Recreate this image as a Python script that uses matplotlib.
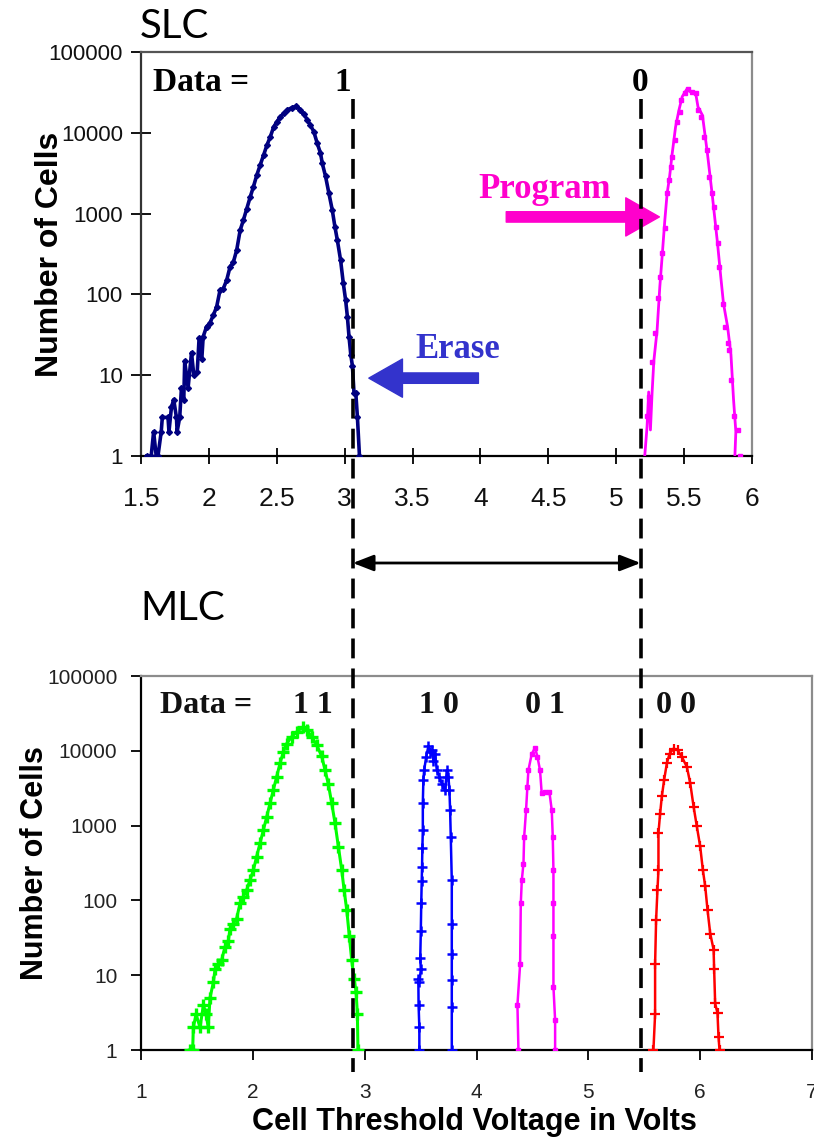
import matplotlib
matplotlib.use("Agg")
import matplotlib.pyplot as plt
from matplotlib.lines import Line2D
from matplotlib.transforms import blended_transform_factory

# ---------------- data ----------------
# SLC, erased state ("1")
slc_erase_v = [1.543, 1.575, 1.593, 1.612, 1.625, 1.649, 1.657, 1.699, 1.706, 1.724, 1.741, 1.761, 1.766,
               1.785, 1.798, 1.815, 1.822, 1.847, 1.872, 1.889, 1.914, 1.928, 1.948, 1.958, 1.983, 2.007,
               2.032, 2.057, 2.082, 2.106, 2.131, 2.156, 2.180, 2.205, 2.230, 2.254, 2.279, 2.304, 2.328,
               2.353, 2.378, 2.403, 2.427, 2.452, 2.477, 2.501, 2.526, 2.551, 2.575, 2.612, 2.645, 2.674,
               2.699, 2.724, 2.748, 2.773, 2.798, 2.822, 2.835, 2.859, 2.884, 2.909, 2.928, 2.946, 2.970,
               2.990, 3.007, 3.020, 3.032, 3.045, 3.057, 3.069, 3.082, 3.094, 3.109]
slc_erase_n = [1, 1, 2, 1, 1, 2, 3, 3, 2, 4, 5, 3, 2,
               3, 7, 5, 15, 7, 19, 10, 11, 29, 16, 30, 40, 44,
               55, 70, 113, 118, 150, 220, 250, 355, 620, 830, 1150, 1600, 2150,
               3000, 4000, 5300, 7000, 8900, 11800, 13700, 15800, 17400, 19100, 20500, 21400, 19100,
               17000, 14600, 12400, 10300, 7400, 5600, 4200, 2900, 1780, 1100, 690, 470, 265,
               137, 85, 53, 30, 18, 13, 6, 6, 3, 1]

# SLC, programmed state ("0"): solid line and dotted series
slc_prog_v = [5.210, 5.227, 5.239, 5.252, 5.264, 5.277, 5.301, 5.321, 5.338, 5.358, 5.375, 5.393, 5.412,
              5.437, 5.462, 5.486, 5.519, 5.548, 5.585, 5.602, 5.635, 5.672, 5.709, 5.746, 5.770, 5.790,
              5.820, 5.845, 5.864, 5.881, 5.874]
slc_prog_n = [1, 2.3, 6.2, 2.1, 6, 15, 36, 124, 293, 830, 1780, 2860, 5500,
              11800, 19100, 28000, 34500, 32000, 31000, 21000, 16500, 5500, 1600, 430, 165, 77,
              40, 18, 5, 2, 1]
slc_prog_dot_v = [5.227, 5.239, 5.264, 5.289, 5.306, 5.326, 5.338, 5.358, 5.375, 5.388, 5.400, 5.412,
                  5.430, 5.449, 5.467, 5.479, 5.504, 5.528, 5.560, 5.585, 5.602, 5.622, 5.647, 5.667,
                  5.684, 5.704, 5.721, 5.733, 5.746, 5.758, 5.783, 5.800, 5.820, 5.832, 5.844, 5.864,
                  5.894, 5.914]
slc_prog_dot_n = [3.1, 5.4, 14.7, 33, 89, 166, 323, 655, 1780, 2590, 3800, 5030,
                  8100, 13700, 18100, 25300, 30700, 34500, 32000, 30700, 19100, 15700, 8900, 6100,
                  2850, 1780, 1210, 690, 428, 220, 77, 40, 24.8, 20.5, 8.7, 3.1,
                  2.1, 1]

# MLC states
mlc11_v = [1.438, 1.462, 1.468, 1.492, 1.528, 1.558, 1.581, 1.602, 1.617, 1.647, 1.662, 1.692, 1.721,
           1.751, 1.781, 1.796, 1.826, 1.855, 1.885, 1.915, 1.945, 1.975, 2.005, 2.034, 2.064, 2.094,
           2.124, 2.154, 2.183, 2.213, 2.243, 2.273, 2.303, 2.347, 2.392, 2.452, 2.482, 2.526, 2.571,
           2.616, 2.646, 2.675, 2.705, 2.735, 2.765, 2.795, 2.816, 2.840, 2.863, 2.884, 2.905, 2.923,
           2.935, 2.940]
mlc11_n = [1, 1, 2, 3, 2, 4, 3, 2, 5, 8, 12, 14, 16,
           24, 29, 42, 49, 57, 91, 112, 138, 188, 255, 385, 580, 870,
           1310, 2000, 2990, 4500, 6800, 9700, 12500, 15400, 17900, 21000, 19000, 15400, 12000,
           8400, 5500, 3600, 2000, 1080, 520, 255, 138, 74, 33, 16, 9, 6,
           3, 1]

mlc10_v = [3.489, 3.489, 3.482, 3.480, 3.490, 3.502, 3.497, 3.502, 3.506, 3.510, 3.513, 3.516, 3.520,
           3.520, 3.525, 3.532, 3.550, 3.570, 3.585, 3.600, 3.615, 3.630, 3.645, 3.669, 3.690, 3.720,
           3.734, 3.749, 3.758, 3.764, 3.770, 3.779, 3.779, 3.779, 3.779, 3.779, 3.779]
mlc10_n = [1, 2, 4, 9, 8, 12, 17, 39, 92, 180, 280, 500, 870,
           2000, 4100, 5500, 8300, 11500, 9500, 10200, 7400, 9100, 5500, 4500, 3600, 2950,
           5500, 4500, 2950, 1600, 700, 185, 49, 19.5, 8.7, 3.8, 1]

mlc01_v = [4.375, 4.366, 4.390, 4.396, 4.405, 4.420, 4.426, 4.443, 4.455, 4.464, 4.494, 4.524, 4.545,
           4.568, 4.583, 4.613, 4.652, 4.673, 4.682, 4.688, 4.688, 4.688, 4.688, 4.703, 4.703]
mlc01_n = [1, 4, 14, 91, 185, 310, 700, 1600, 3300, 5500, 9100, 11000, 8300,
           5500, 2700, 2800, 2800, 1600, 700, 255, 92, 33, 7, 2.5, 1]

mlc00_v = [5.582, 5.597, 5.597, 5.606, 5.618, 5.627, 5.627, 5.642, 5.657, 5.678, 5.702, 5.726, 5.762,
           5.798, 5.836, 5.881, 5.911, 5.941, 5.970, 6.000, 6.024, 6.045, 6.066, 6.090, 6.120, 6.125,
           6.134, 6.155, 6.164, 6.173]
mlc00_n = [1, 3, 14, 55, 137, 255, 800, 1450, 2450, 4100, 6800, 9100, 10700,
           10200, 8300, 6100, 3700, 1800, 980, 530, 255, 155, 74, 36, 22, 12,
           4.2, 3.1, 1.5, 1]

slc_xticks = [1.5, 2, 2.5, 3, 3.5, 4, 4.5, 5, 5.5, 6]
slc_xticklabels = ["1.5", "2", "2.5", "3", "3.5", "4", "4.5", "5", "5.5", "6"]
mlc_xticks = [1, 2, 3, 4, 5, 6, 7]
yticks = [1, 10, 100, 1000, 10000, 100000]
yticklabels = ["1", "10", "100", "1000", "10000", "100000"]

verify_levels = [3.06, 5.18]   # read-verify voltages (dashed lines), SLC axis units

# ---------------- figure ----------------
W, H = 814, 1140
fig = plt.figure(figsize=(W / 100, H / 100), dpi=100)

NARROW = ["Liberation Sans Narrow", "Liberation Sans", "DejaVu Sans"]
SANS = ["Liberation Sans", "DejaVu Sans"]
SERIF = ["Liberation Serif", "DejaVu Serif"]


def fx(px):
    return px / W


def fy(py):
    return 1 - py / H


ax1 = fig.add_axes([fx(141), fy(456), (752 - 141) / W, (456 - 52) / H])
ax2 = fig.add_axes([fx(141), fy(1050), (812 - 141) / W, (1050 - 676) / H])

for ax in (ax1, ax2):
    ax.set_yscale("log")
    ax.set_ylim(1, 100000)
    ax.minorticks_off()
    ax.spines["top"].set_color("#8c8c8c")
    ax.spines["right"].set_color("#8c8c8c")
    ax.spines["left"].set_color("black")
    ax.spines["bottom"].set_color("black")
    for s in ax.spines.values():
        s.set_linewidth(1.6)
ax1.spines["top"].set_color("#555555")
ax1.spines["left"].set_color("#333333")

# ---- SLC ----
ax1.set_xlim(1.5, 6)
ax1.plot(slc_erase_v, slc_erase_n, color="#000080", lw=2.6, marker="D", ms=3.0, zorder=3)
ax1.plot(slc_prog_v, slc_prog_n, color="#ff00ff", lw=2.0, zorder=3)
ax1.plot(slc_prog_dot_v, slc_prog_dot_n, color="#ff00ff", lw=0, marker="s", ms=3.2, zorder=3)

ax1.set_xticks(slc_xticks, slc_xticklabels)
ax1.set_yticks(yticks, yticklabels)
ax1.tick_params(axis="x", direction="inout", length=12, width=1.3, pad=16, labelsize=19)
ax1.tick_params(axis="y", direction="inout", length=14, width=1.3, pad=6, labelsize=16)
for lab in ax1.get_xticklabels() + ax1.get_yticklabels():
    lab.set_family(NARROW)
    lab.set_color("#111111")

ax1.set_ylabel("Number of Cells", fontsize=23, fontweight="bold", family=SANS, va="center")
ax1.yaxis.set_label_coords((50 - 141) / 611, 0.5)

tfs = dict(family=SERIF, fontweight="bold", fontsize=24, va="center")
ax1.text(1.585, 41500, "Data =", ha="left", **tfs)
ax1.text(2.985, 41500, "1", ha="center", **tfs)
ax1.text(5.178, 41500, "0", ha="center", **tfs)
ax1.text(4.473, 2000, "Program", ha="center", color="#ff00cc",
         family=SERIF, fontweight="bold", fontsize=25, va="center")
ax1.text(3.83, 21, "Erase", ha="center", color="#3333cc",
         family=SERIF, fontweight="bold", fontsize=25, va="center")

ax1.annotate("", xy=(5.318, 910), xytext=(4.19, 910),
             arrowprops=dict(arrowstyle="simple,head_length=1.1,head_width=1.25,tail_width=0.34",
                             color="#ff00cc", mutation_scale=22, shrinkA=0, shrinkB=0),
             annotation_clip=False)
ax1.annotate("", xy=(3.178, 9.2), xytext=(3.985, 9.2),
             arrowprops=dict(arrowstyle="simple,head_length=1.1,head_width=1.25,tail_width=0.34",
                             color="#3333cc", mutation_scale=22, shrinkA=0, shrinkB=0),
             annotation_clip=False)

# ---- MLC ----
ax2.set_xlim(1, 7)
ax2.plot(mlc11_v, mlc11_n, color="#00ff00", lw=2.2, marker="+", ms=8, mew=2.4, zorder=3)
ax2.plot(mlc10_v, mlc10_n, color="#0000ff", lw=1.8, marker="+", ms=7, mew=1.8, zorder=3)
ax2.plot(mlc01_v, mlc01_n, color="#ff00ff", lw=1.8, marker="s", ms=3.5, zorder=3)
ax2.plot(mlc00_v, mlc00_n, color="#ff0000", lw=1.8, marker="+", ms=7, mew=1.6, zorder=3)

ax2.set_xticks(mlc_xticks, [str(v) for v in mlc_xticks])
ax2.set_yticks(yticks, yticklabels)
ax2.tick_params(axis="x", direction="out", length=7, width=1.3, pad=17, labelsize=15, colors="black")
ax2.tick_params(axis="y", direction="out", length=7, width=1.3, pad=10, labelsize=15)
for lab in ax2.get_xticklabels() + ax2.get_yticklabels():
    lab.set_family(SANS)
    lab.set_color("#222222")

ax2.set_ylabel("Number of Cells", fontsize=22, fontweight="bold", family=SANS, va="center")
ax2.yaxis.set_label_coords((35 - 141) / 671, 0.5)
ax2.set_xlabel("Cell Threshold Voltage in Volts", fontsize=22, fontweight="bold", family=SANS, va="center")
ax2.xaxis.set_label_coords((474 - 141) / 671, (1050 - 1122) / 374)

mfs = dict(family=SERIF, fontweight="bold", fontsize=23, va="center", color="#111111")
ax2.text(1.17, 39800, "Data =", ha="left", **mfs)
ax2.text(2.535, 39800, "1 1", ha="center", **mfs)
ax2.text(3.66, 39800, "1 0", ha="center", **mfs)
ax2.text(4.61, 39800, "0 1", ha="center", **mfs)
ax2.text(5.78, 39800, "0 0", ha="center", **mfs)

# ---- section titles ----
fig.text(fx(140), fy(27), "SLC", fontsize=29, family=["Lato", "Open Sans", "DejaVu Sans"], va="center", ha="left")
fig.text(fx(140), fy(609), "MLC", fontsize=29, family=["Lato", "Open Sans", "DejaVu Sans"], va="center", ha="left")

# ---- dashed verify lines spanning both panels ----
btr = blended_transform_factory(ax1.transData, fig.transFigure)
for v in verify_levels:
    ln = Line2D([v, v], [fy(99), fy(1072)], transform=btr, color="black", lw=2.6,
                linestyle=(0, (5.5, 2.8)), zorder=5)
    fig.add_artist(ln)

ax1.annotate("", xy=(verify_levels[1], fy(563)), xytext=(verify_levels[0], fy(563)),
             xycoords=btr, textcoords=btr,
             arrowprops=dict(arrowstyle="<|-|>,head_length=0.9,head_width=0.35", color="black",
                             lw=2.0, shrinkA=0, shrinkB=0, mutation_scale=14),
             annotation_clip=False)

fig.savefig("out.png", dpi=100)
